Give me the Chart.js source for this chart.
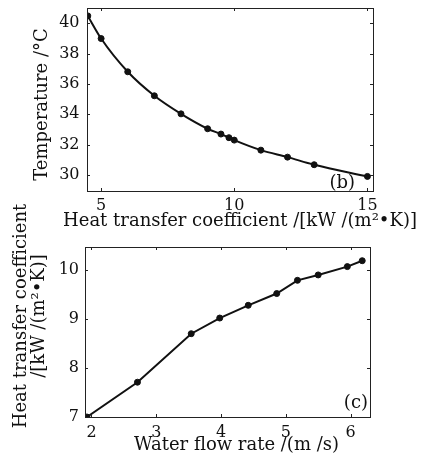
<!DOCTYPE html>
<html>
<head>
<meta charset="utf-8">
<script src="https://cdn.jsdelivr.net/npm/chart.js@4.4.0/dist/chart.umd.min.js"></script>
<style>
    html, body { margin: 0; padding: 0; background: #fff; }
    body { width: 424px; height: 458px; position: relative; overflow: hidden; }
    .panel { position: absolute; left: 0; width: 424px; }
    #panelB { top: 0; height: 234px; }
    #panelC { top: 190px; height: 268px; }
</style>
</head>
<body>
<div class="panel" id="panelB"><canvas id="chartB"></canvas></div>
<div class="panel" id="panelC"><canvas id="chartC"></canvas></div>
<script>
// (b) temperature vs heat transfer coefficient
const heatCoefB = [4.5, 5, 6, 7, 8, 9, 9.5, 9.8, 10, 11, 12, 13, 15];
const temperature = [40.48, 38.99, 36.8, 35.22, 34.03, 33.05, 32.7, 32.46, 32.3, 31.64, 31.18, 30.68, 29.91];
const xTicksB = [5, 10, 15];
const yTicksB = [30, 32, 34, 36, 38, 40];

// (c) heat transfer coefficient vs water flow rate
const flowRate = [1.93, 2.71, 3.54, 3.98, 4.42, 4.86, 5.18, 5.5, 5.95, 6.18];
const heatCoefC = [7.0, 7.71, 8.70, 9.02, 9.28, 9.52, 9.79, 9.90, 10.07, 10.19];
const xTicksC = [2, 3, 4, 5, 6];
const yTicksC = [7, 8, 9, 10];

const SERIF = "'DejaVu Serif', serif";

// box around plot area with inward ticks on all sides, axis titles and the panel letter
// (titles drawn here because chart.js squeezes them to the axis length)
const framePlugin = {
    id: 'frame',
    afterDraw(chart, args, opts) {
        const {ctx, chartArea: a, scales} = chart;
        const len = 3;
        ctx.save();
        ctx.strokeStyle = '#222';
        ctx.lineWidth = 1;
        ctx.strokeRect(a.left + 0.5, a.top + 0.5, a.right - a.left, a.bottom - a.top);
        ctx.beginPath();
        scales.x.ticks.forEach(t => {
            const px = Math.round(scales.x.getPixelForValue(t.value)) + 0.5;
            ctx.moveTo(px, a.bottom); ctx.lineTo(px, a.bottom - len);
            ctx.moveTo(px, a.top); ctx.lineTo(px, a.top + len);
        });
        scales.y.ticks.forEach(t => {
            const py = Math.round(scales.y.getPixelForValue(t.value)) + 0.5;
            ctx.moveTo(a.left, py); ctx.lineTo(a.left + len, py);
            ctx.moveTo(a.right, py); ctx.lineTo(a.right - len, py);
        });
        ctx.stroke();

        ctx.fillStyle = '#111';
        ctx.font = '18px ' + SERIF;
        ctx.textAlign = 'right';
        ctx.textBaseline = 'bottom';
        ctx.fillText(opts.label, a.right - opts.dx, a.bottom - opts.dy);

        ctx.textAlign = 'center';
        ctx.textBaseline = 'middle';
        const cx = (a.left + a.right) / 2;
        ctx.fillText(opts.xTitle, cx + opts.xTitleDx, a.bottom + opts.xTitleGap);

        ctx.translate(0, (a.top + a.bottom) / 2 + opts.yTitleDy);
        ctx.rotate(-Math.PI / 2);
        opts.yTitle.forEach((line, i) => {
            ctx.fillText(line, 0, opts.yTitleX[i]);
        });
        ctx.restore();
    }
};

function makeChart(id, cfg) {
    const ctx = document.getElementById(id);
    return new Chart(ctx, {
        type: 'scatter',
        data: {
            datasets: [{
                data: cfg.xs.map((x, i) => ({x: x, y: cfg.ys[i]})),
                showLine: true,
                borderColor: '#111',
                borderWidth: 2,
                backgroundColor: '#111',
                pointStyle: 'circle',
                pointRadius: 3,
                pointBorderWidth: 1,
                cubicInterpolationMode: cfg.smooth ? 'monotone' : 'default'
            }]
        },
        options: {
            responsive: true,
            maintainAspectRatio: false,
            animation: false,
            layout: { padding: cfg.padding },
            plugins: {
                legend: { display: false },
                tooltip: { enabled: false },
                frame: cfg.frame
            },
            scales: {
                x: {
                    type: 'linear',
                    min: cfg.xMin,
                    max: cfg.xMax,
                    afterBuildTicks: s => { s.ticks = cfg.xTicks.map(v => ({value: v})); },
                    afterFit: s => { s.height = cfg.xHeight; s.paddingLeft = 0; s.paddingRight = 0; },
                    grid: { display: false, drawTicks: false },
                    border: { display: false },
                    ticks: { color: '#111', padding: cfg.xPad, font: { family: SERIF, size: 16 } }
                },
                y: {
                    type: 'linear',
                    min: cfg.yMin,
                    max: cfg.yMax,
                    afterBuildTicks: s => { s.ticks = cfg.yTicks.map(v => ({value: v})); },
                    afterFit: s => { s.width = cfg.yWidth; s.paddingTop = 0; s.paddingBottom = 0; },
                    grid: { display: false, drawTicks: false },
                    border: { display: false },
                    ticks: { color: '#111', padding: cfg.yPad, font: { family: SERIF, size: 16 } }
                }
            }
        },
        plugins: [framePlugin]
    });
}

makeChart('chartB', {
    xs: heatCoefB, ys: temperature, smooth: true,
    xMin: 4.47, xMax: 15.21, yMin: 28.95, yMax: 41.0,
    xTicks: xTicksB, yTicks: yTicksB,
    padding: { left: 0, top: 8, right: 51, bottom: 0 },
    xHeight: 43, yWidth: 87, xPad: 5, yPad: 7.5,
    frame: {
        label: '(b)', dx: 18, dy: -1,
        xTitle: 'Heat transfer coefficient /[kW /(m\u00b2\u2022K)]', xTitleDx: 10, xTitleGap: 30,
        yTitle: ['Temperature /\u00b0C'], yTitleX: [42], yTitleDy: 5
    }
});

makeChart('chartC', {
    xs: flowRate, ys: heatCoefC, smooth: false,
    xMin: 1.9, xMax: 6.3, yMin: 7.0, yMax: 10.47,
    xTicks: xTicksC, yTicks: yTicksC,
    padding: { left: 0, top: 57, right: 54, bottom: 0 },
    xHeight: 41, yWidth: 85, xPad: 6, yPad: 6,
    frame: {
        label: '(c)', dx: 2, dy: 5,
        xTitle: 'Water flow rate /(m /s)', xTitleDx: 9, xTitleGap: 28.5,
        yTitle: ['Heat transfer coefficient', '/[kW /(m\u00b2\u2022K)]'], yTitleX: [21.5, 39], yTitleDy: -16
    }
});
</script>
</body>
</html>
